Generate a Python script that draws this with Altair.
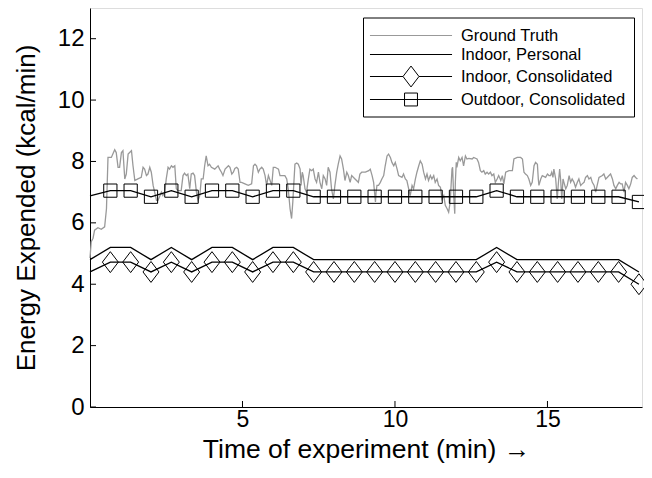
import altair as alt
import pandas as pd

# ---------------- data ----------------
series_names = ["Ground Truth", "Indoor, Personal", "Indoor, Consolidated", "Outdoor, Consolidated"]
series_colors = ["#999999", "black", "black", "black"]

model_time = [0.0, 0.667, 1.333, 2.0, 2.667, 3.333, 4.0, 4.667, 5.333, 6.0, 6.667, 7.333, 8.0, 8.667,
              9.333, 10.0, 10.667, 11.333, 12.0, 12.667, 13.333, 14.0, 14.667, 15.333, 16.0, 16.667,
              17.333, 18.0]
indoor_personal = [4.8, 5.2, 5.2, 4.8, 5.2, 4.8, 5.2, 5.2, 4.8, 5.2, 5.2, 4.8, 4.8, 4.8,
                   4.8, 4.8, 4.8, 4.8, 4.8, 4.8, 5.2, 4.8, 4.8, 4.8, 4.8, 4.8, 4.8, 4.4]
indoor_consolidated = [4.4, 4.72, 4.72, 4.4, 4.72, 4.4, 4.72, 4.72, 4.4, 4.72, 4.72, 4.4, 4.4, 4.4,
                       4.4, 4.4, 4.4, 4.4, 4.4, 4.4, 4.72, 4.4, 4.4, 4.4, 4.4, 4.4, 4.4, 4.0]
outdoor_consolidated = [6.88, 7.05, 7.05, 6.85, 7.05, 6.85, 7.05, 7.05, 6.85, 7.05, 7.05, 6.85, 6.85, 6.85,
                        6.85, 6.85, 6.85, 6.85, 6.85, 6.85, 7.05, 6.85, 6.85, 6.85, 6.85, 6.85, 6.85, 6.68]

ground_truth = [
    (0.00, 4.85), (0.04, 5.39), (0.10, 5.50), (0.15, 5.76), (0.26, 5.84), (0.37, 5.79), (0.48, 5.87),
    (0.54, 6.46), (0.59, 8.13), (0.70, 8.13), (0.81, 8.38), (0.86, 8.29), (0.92, 7.81), (0.97, 7.81),
    (1.03, 8.29), (1.08, 8.35), (1.14, 7.43), (1.19, 7.59), (1.25, 8.24), (1.30, 8.29), (1.36, 8.35),
    (1.41, 7.86), (1.47, 7.38), (1.57, 7.43), (1.68, 7.48), (1.74, 7.81), (1.79, 7.75), (1.85, 7.54),
    (1.90, 7.59), (1.96, 7.81), (2.01, 7.65), (2.07, 7.22), (2.12, 7.00), (2.18, 6.73), (2.23, 6.73),
    (2.34, 7.00), (2.39, 6.89), (2.45, 7.00), (2.50, 7.43), (2.56, 7.81), (2.61, 7.75), (2.67, 7.86),
    (2.72, 7.81), (2.78, 7.86), (2.83, 7.11), (2.89, 7.05), (2.99, 7.05), (3.05, 7.54), (3.10, 7.62),
    (3.16, 7.54), (3.21, 7.59), (3.27, 7.11), (3.32, 7.59), (3.38, 7.62), (3.43, 7.54), (3.49, 7.00),
    (3.54, 6.73), (3.60, 6.89), (3.65, 7.43), (3.71, 7.43), (3.76, 7.86), (3.81, 8.18), (3.87, 7.86),
    (3.92, 7.91), (3.98, 7.81), (4.09, 7.75), (4.20, 7.86), (4.25, 7.75), (4.31, 7.65), (4.36, 7.54),
    (4.43, 7.75), (4.54, 7.86), (4.59, 7.81), (4.65, 7.59), (4.70, 7.65), (4.75, 7.77), (4.81, 7.81),
    (4.86, 7.75), (4.92, 7.32), (4.97, 7.32), (5.08, 7.27), (5.19, 7.22), (5.30, 7.27), (5.36, 7.86),
    (5.41, 7.91), (5.46, 7.86), (5.52, 7.65), (5.57, 7.75), (5.63, 7.81), (5.68, 7.75), (5.74, 7.54),
    (5.79, 7.22), (5.85, 7.54), (5.96, 7.22), (6.01, 7.81), (6.07, 7.81), (6.18, 7.75), (6.23, 7.54),
    (6.34, 7.54), (6.39, 7.54), (6.45, 7.43), (6.50, 7.11), (6.56, 6.46), (6.61, 6.14), (6.65, 6.68),
    (6.68, 7.22), (6.72, 7.91), (6.78, 7.95), (6.83, 7.91), (6.89, 7.75), (6.92, 7.22), (6.96, 7.65),
    (6.99, 7.54), (7.05, 7.11), (7.10, 7.00), (7.16, 7.43), (7.21, 7.75), (7.27, 7.70), (7.32, 7.75),
    (7.38, 7.43), (7.43, 7.32), (7.49, 7.65), (7.54, 7.32), (7.60, 7.11), (7.65, 7.54), (7.71, 7.43),
    (7.76, 7.22), (7.81, 7.81), (7.87, 7.65), (7.92, 7.11), (7.98, 6.78), (8.03, 7.22), (8.09, 7.65),
    (8.14, 7.91), (8.20, 8.18), (8.25, 8.08), (8.31, 7.75), (8.36, 7.38), (8.42, 7.65), (8.47, 7.54),
    (8.53, 7.32), (8.58, 7.54), (8.69, 7.43), (8.80, 7.32), (8.85, 7.59), (8.91, 7.65), (9.03, 7.65),
    (9.14, 7.70), (9.19, 7.75), (9.25, 7.54), (9.30, 7.32), (9.36, 6.68), (9.38, 7.00), (9.41, 7.22),
    (9.46, 7.22), (9.52, 7.32), (9.57, 7.43), (9.63, 7.54), (9.68, 7.86), (9.74, 8.18), (9.79, 8.24),
    (9.85, 8.13), (9.90, 7.97), (9.96, 7.86), (10.01, 7.97), (10.07, 7.75), (10.12, 7.54), (10.23, 7.48),
    (10.28, 7.59), (10.34, 7.43), (10.39, 7.38), (10.45, 7.11), (10.50, 6.89), (10.56, 7.22), (10.61, 7.11),
    (10.67, 7.43), (10.72, 7.65), (10.78, 7.86), (10.83, 8.02), (10.89, 7.91), (10.94, 7.65), (11.00, 7.43),
    (11.05, 7.59), (11.10, 7.38), (11.16, 7.54), (11.21, 7.43), (11.27, 7.54), (11.32, 7.32), (11.38, 7.43),
    (11.43, 7.22), (11.49, 7.16), (11.54, 6.78), (11.60, 6.89), (11.65, 6.57), (11.71, 6.46), (11.76, 6.35),
    (11.81, 6.68), (11.87, 7.75), (11.89, 7.81), (11.92, 7.00), (11.96, 6.30), (11.98, 7.32), (12.01, 7.97),
    (12.03, 7.81), (12.09, 8.13), (12.14, 8.02), (12.20, 8.13), (12.25, 7.86), (12.31, 8.18), (12.36, 8.08),
    (12.42, 8.10), (12.53, 8.08), (12.58, 8.13), (12.69, 8.08), (12.74, 7.97), (12.80, 7.70), (12.85, 7.65),
    (12.91, 7.70), (12.96, 7.59), (13.02, 7.65), (13.07, 7.59), (13.13, 7.65), (13.18, 7.54), (13.24, 7.59),
    (13.29, 7.32), (13.35, 7.43), (13.40, 7.54), (13.47, 7.38), (13.52, 7.54), (13.57, 7.27), (13.63, 7.65),
    (13.74, 7.70), (13.85, 7.70), (13.90, 8.08), (14.01, 8.13), (14.12, 8.13), (14.18, 8.08), (14.23, 7.65),
    (14.28, 7.59), (14.34, 7.54), (14.39, 7.43), (14.45, 7.22), (14.50, 7.32), (14.56, 7.86), (14.61, 7.97),
    (14.67, 7.91), (14.70, 7.43), (14.72, 7.22), (14.78, 7.43), (14.83, 7.54), (14.94, 7.48), (15.00, 7.59),
    (15.05, 7.54), (15.10, 7.54), (15.14, 7.65), (15.18, 7.48), (15.21, 7.75), (15.27, 7.43), (15.32, 6.78),
    (15.36, 7.32), (15.40, 7.75), (15.43, 7.43), (15.47, 6.78), (15.51, 7.43), (15.54, 7.32), (15.60, 7.11),
    (15.65, 7.22), (15.71, 7.54), (15.76, 7.32), (15.81, 7.43), (15.87, 7.32), (15.92, 7.16), (15.98, 7.32),
    (16.03, 7.43), (16.09, 7.22), (16.14, 7.27), (16.20, 7.32), (16.25, 7.48), (16.31, 7.54), (16.36, 7.43),
    (16.42, 7.48), (16.47, 7.32), (16.53, 7.22), (16.58, 7.00), (16.63, 7.22), (16.69, 7.48), (16.80, 7.54),
    (16.85, 7.59), (16.91, 7.43), (16.96, 7.48), (17.02, 7.54), (17.07, 7.59), (17.13, 7.43), (17.18, 7.22),
    (17.24, 7.11), (17.29, 7.22), (17.35, 7.32), (17.40, 7.27), (17.45, 7.27), (17.51, 7.00), (17.56, 7.32),
    (17.62, 7.22), (17.67, 7.11), (17.73, 7.27), (17.78, 7.48), (17.84, 7.54), (17.89, 7.48), (17.95, 7.43),
]

x_ticks = [5, 10, 15]
y_ticks = [0, 2, 4, 6, 8, 10, 12]

# ---------------- tables ----------------
gt_df = pd.DataFrame(ground_truth, columns=["t", "v"])
model_df = pd.concat([
    pd.DataFrame({"t": model_time, "v": indoor_personal, "series": series_names[1]}),
    pd.DataFrame({"t": model_time, "v": indoor_consolidated, "series": series_names[2]}),
    pd.DataFrame({"t": model_time, "v": outdoor_consolidated, "series": series_names[3]}),
], ignore_index=True)
legend_df = pd.DataFrame({"series": series_names})
xt_df = pd.DataFrame({"t": x_ticks})
yt_df = pd.DataFrame({"v": y_ticks})

FONT = "Liberation Sans"
W, H = 552, 399

x_enc = alt.X("t:Q",
              scale=alt.Scale(domain=[0, 18.1], nice=False, zero=False),
              axis=alt.Axis(values=x_ticks, ticks=False, grid=False, labelFontSize=23,
                            labelColor="black", labelPadding=19, labelBaseline="alphabetic",
                            labelFont=FONT,
                            title="Time of experiment (min) →", titleFontSize=26.5,
                            titleFontWeight="normal", titleColor="black", titleFont=FONT,
                            titleBaseline="alphabetic", titleY=50,
                            domainColor="black", domainWidth=1))
y_enc = alt.Y("v:Q",
              scale=alt.Scale(domain=[0, 13], nice=False),
              axis=alt.Axis(values=y_ticks, ticks=False, grid=False, labelFontSize=24,
                            labelColor="black", labelPadding=6, labelFont=FONT,
                            title="Energy Expended (kcal/min)", titleFontSize=26,
                            titleFontWeight="normal", titleColor="black", titleFont=FONT,
                            titleBaseline="alphabetic", titleX=-56,
                            domainColor="black", domainWidth=1))

DIAMOND = "M0,-1.1L0.84,0L0,1.1L-0.84,0Z"

gt_line = alt.Chart(gt_df).mark_line(color="#999999", strokeWidth=1.3).encode(x=x_enc, y=y_enc)

personal_line = alt.Chart(model_df).transform_filter(
    alt.datum.series == series_names[1]
).mark_line(color="black", strokeWidth=1.3).encode(x="t:Q", y="v:Q")

indoor_line = alt.Chart(model_df).transform_filter(
    alt.datum.series == series_names[2]
).mark_line(color="black", strokeWidth=1.3).encode(x="t:Q", y="v:Q")

indoor_pts = alt.Chart(model_df).transform_filter(
    (alt.datum.series == series_names[2]) & (alt.datum.t > 0)
).mark_point(shape=DIAMOND, size=361, filled=False, color="black", strokeWidth=1,
             opacity=1).encode(x="t:Q", y="v:Q")

outdoor_line = alt.Chart(model_df).transform_filter(
    alt.datum.series == series_names[3]
).mark_line(color="black", strokeWidth=1.3).encode(x="t:Q", y="v:Q")

outdoor_pts = alt.Chart(model_df).transform_filter(
    (alt.datum.series == series_names[3]) & (alt.datum.t > 0)
).mark_point(shape="square", size=175, filled=False, color="black", strokeWidth=1,
             opacity=1).encode(x="t:Q", y="v:Q")

x_tick_rules = alt.Chart(xt_df).mark_rule(color="black", strokeWidth=1).encode(
    x="t:Q", y=alt.value(H), y2=alt.value(H - 6))
y_tick_rules = alt.Chart(yt_df).mark_rule(color="black", strokeWidth=1).encode(
    y="v:Q", x=alt.value(0), x2=alt.value(6))

# legend symbols: line, line, line+diamond, line+square (custom paths, r = 9.5 px)
legend_shapes = [
    "M-4.32,0L4.32,0",
    "M-4.32,0L4.32,0",
    "M-4.32,0L-0.84,0M0.84,0L4.32,0M0,-1.1L0.84,0L0,1.1L-0.84,0Z",
    "M-4.32,0L4.32,0M-0.68,-0.68L0.68,-0.68L0.68,0.68L-0.68,0.68Z",
]
legend_layer = alt.Chart(legend_df).transform_filter("false").mark_point(
    filled=False, opacity=1
).encode(
    color=alt.Color("series:N",
                    scale=alt.Scale(domain=series_names, range=series_colors),
                    legend=alt.Legend(orient="none", legendX=273, legendY=9.5, title=None,
                                      strokeColor="black", fillColor="white", padding=8,
                                      symbolSize=361, symbolStrokeWidth=1, symbolOffset=30,
                                      labelOffset=40, labelFontSize=16.5, labelFont=FONT,
                                      labelColor="black", labelLimit=400, rowPadding=0)),
    shape=alt.Shape("series:N", scale=alt.Scale(domain=series_names, range=legend_shapes)),
)

chart = alt.layer(
    gt_line, personal_line, indoor_line, indoor_pts, outdoor_line, outdoor_pts,
    x_tick_rules, y_tick_rules, legend_layer
).properties(
    width=W, height=H,
    autosize=alt.AutoSizeParams(type="none"),
    padding={"left": 82, "top": 0, "right": 2, "bottom": 62},
).configure_view(stroke=None).configure(font=FONT)

chart.save("out.html", embed_options={"renderer": "svg", "actions": False})
